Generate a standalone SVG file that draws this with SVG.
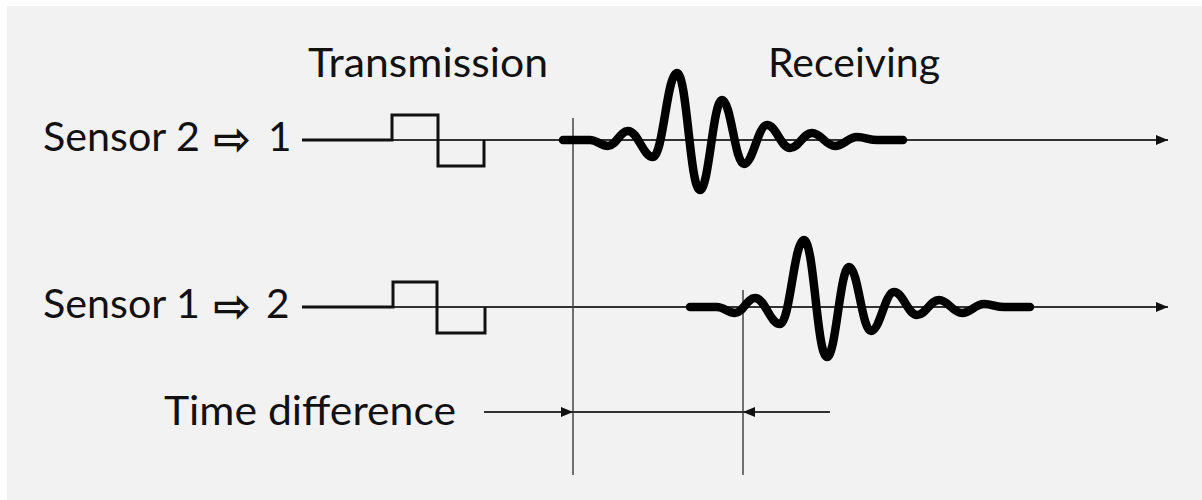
<svg xmlns="http://www.w3.org/2000/svg" xmlns:xlink="http://www.w3.org/1999/xlink" width="1202" height="500" viewBox="0 0 1202 500">
  <style>
    .lbl { font-family: Lato, "Open Sans", "Liberation Sans", sans-serif; font-size: 40.5px; fill: #111; }
    .sym { font-family: "DejaVu Sans", sans-serif; font-size: 46px; font-weight: bold; fill: #111; }
    .axis { stroke: #333; stroke-width: 1.8; fill: none; }
    .vline { stroke: #444; stroke-width: 1.5; fill: none; }
    .pulse { stroke: #111; stroke-width: 3; fill: none; stroke-linejoin: miter; }
    .wave { stroke: #000; stroke-width: 8.5; fill: none; stroke-linecap: round; stroke-linejoin: round; }
  </style>
  <defs>
    <marker id="arrow" viewBox="0 0 12 10" refX="12" refY="5" markerWidth="12" markerHeight="10" markerUnits="userSpaceOnUse" orient="auto">
      <path d="M0,0 L12,5 L0,10 Z" fill="#111"/>
    </marker>
    <path id="wavelet" d="M563,140 L590,140 C597,140 601,146 608,146 C616,146 620,131 628,131 C638,131 643,157 653,157 C663,157 667,73 677,73 C687,73 690,190 700,190 C709,190 713,100 722,100 C731,100 735,164 744,164 C753,164 758,125 767,125 C776,125 781,148 790,148 C799,148 803,133 812,133 C821,133 826,146 835,146 C844,146 848,137 857,137 C866,137 870,141 880,140 L903,140"/>
  </defs>

  <rect x="0" y="0" width="1202" height="500" fill="#ffffff"/>
  <rect x="7" y="6" width="1195" height="494" fill="#f2f2f2"/>

  <g id="label-transmission">
    <text class="lbl" x="308" y="77" textLength="240" lengthAdjust="spacingAndGlyphs">Transmission</text>
  </g>
  <g id="label-receiving">
    <text class="lbl" x="768" y="77" textLength="172" lengthAdjust="spacingAndGlyphs">Receiving</text>
  </g>

  <g id="connectors">
    <line class="axis" x1="302" y1="140" x2="1168" y2="140" marker-end="url(#arrow)"/>
    <line class="axis" x1="302" y1="307" x2="1168" y2="307" marker-end="url(#arrow)"/>
    <line class="vline" x1="573" y1="118" x2="573" y2="475"/>
    <line class="vline" x1="743" y1="290" x2="743" y2="475"/>
    <line class="axis" x1="484" y1="412" x2="573" y2="412" marker-end="url(#arrow)"/>
    <line class="axis" x1="573" y1="412" x2="743" y2="412"/>
    <line class="axis" x1="830" y1="412" x2="743" y2="412" marker-end="url(#arrow)"/>
  </g>

  <g id="row-sensor-2-to-1">
    <text class="lbl" x="43" y="151"><tspan textLength="157" lengthAdjust="spacingAndGlyphs">Sensor 2</tspan> <tspan class="sym" x="213" y="155" textLength="38" lengthAdjust="spacingAndGlyphs">⇨</tspan> <tspan x="268" y="151">1</tspan></text>
    <path class="pulse" d="M302,140 H392 V115 H438 V166 H484 V140"/>
    <use xlink:href="#wavelet" class="wave"/>
  </g>

  <g id="row-sensor-1-to-2">
    <text class="lbl" x="43" y="318"><tspan textLength="157" lengthAdjust="spacingAndGlyphs">Sensor 1</tspan> <tspan class="sym" x="213" y="322" textLength="38" lengthAdjust="spacingAndGlyphs">⇨</tspan> <tspan x="266" y="318">2</tspan></text>
    <path class="pulse" d="M302,307 H393 V282 H437 V333 H485 V307"/>
    <use xlink:href="#wavelet" class="wave" transform="translate(127,167)"/>
  </g>

  <g id="label-time-difference">
    <text class="lbl" x="164" y="425" textLength="292" lengthAdjust="spacingAndGlyphs">Time difference</text>
  </g>
</svg>
